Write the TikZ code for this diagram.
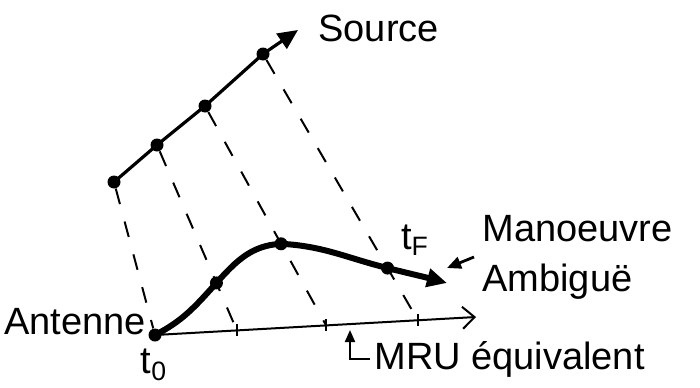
\documentclass[tikz,border=0pt]{standalone}
\usepackage{fontspec}
\setmainfont{Liberation Sans}
\usetikzlibrary{arrows.meta, calc}

\begin{document}
\begin{tikzpicture}[x=0.5pt, y=0.5pt,
    dot/.style={circle, fill=black, inner sep=0pt, minimum size=6.5pt},
    lbl/.style={font=\fontsize{19}{25}\selectfont, inner sep=0pt},
    proj/.style={line width=1pt, dash pattern=on 8pt off 9pt},
    srcline/.style={line width=1.6pt, -{Triangle[length=10pt, width=9pt]}},
    traj/.style={line width=3pt, -{Triangle[length=10pt, width=9pt]}},
    mruline/.style={line width=1pt, -{Straight Barb[length=6pt, width=11pt]}},
    pointer/.style={line width=1.4pt, -{Triangle[length=7pt, width=6pt]}},
    tickm/.style={line width=1pt}
  ]
    \useasboundingbox (0,0) rectangle (700,387);
    \node[dot] (s1) at (114,205) {};
    \node[dot] (s2) at (157,242) {};
    \node[dot] (s3) at (205,281) {};
    \node[dot] (s4) at (263,333) {};
    \coordinate (stip) at (298,357);
    \node[dot] (a) at (155,52) {};
    \coordinate (mend) at (476,70);
    \coordinate (m1) at ($(a)!0.255!(mend)$);
    \coordinate (m2) at ($(a)!0.533!(mend)$);
    \coordinate (m3) at ($(a)!0.819!(mend)$);
    \node[dot] (c1) at ($(s2)!0.744!(m1)$) {};
    \node[dot] (c2) at ($(s3)!0.628!(m2)$) {};
    \node[dot] (c3) at ($(s4)!0.804!(m3)$) {};
    \coordinate (cend) at (447,104);
    \draw[srcline] (s1.center) -- (s2.center) -- (s3.center) -- (s4.center) -- (stip);
    \draw[proj] (s1) -- (a);
    \draw[proj] (s2) -- (m1);
    \draw[proj] (s3) -- (m2);
    \draw[proj] (s4) -- (m3);
    \draw[mruline] (a.center) -- (mend);
    \foreach \m in {m1,m2,m3}
      \draw[tickm] (\m) ++(0,6) -- ++(0,-12);
    \draw[traj] (a.center) to[out=27, in=228] (c1.center) to[out=48, in=183] (c2.center)
      to[out=-3, in=166] (c3.center) to[out=-14, in=165] (cend);
    \node[lbl, anchor=west] (src) at (318,359) {Source};
    \node[lbl, anchor=east] (ant) at (146,65) {Antenne};
    \node[lbl] (t0) at (154,22) {t\textsubscript{0}};
    \node[lbl] (tf) at (415,147) {t\textsubscript{F}};
    \node[lbl, anchor=west, align=left] (man) at (482,130) {Manoeuvre\\Ambiguë};
    \node[lbl, anchor=west] (mlab) at (374,28) {MRU équivalent};
    \coordinate (mtip) at (447,119);
    \coordinate (mh) at (350,57);
    \draw[pointer] ([xshift=-4pt]man.west) -- (mtip);
    \draw[line width=1pt, -{Triangle[length=6pt, width=5pt]}] ([xshift=-2pt]mlab.west) -| (mh);
  \end{tikzpicture}
\end{document}
